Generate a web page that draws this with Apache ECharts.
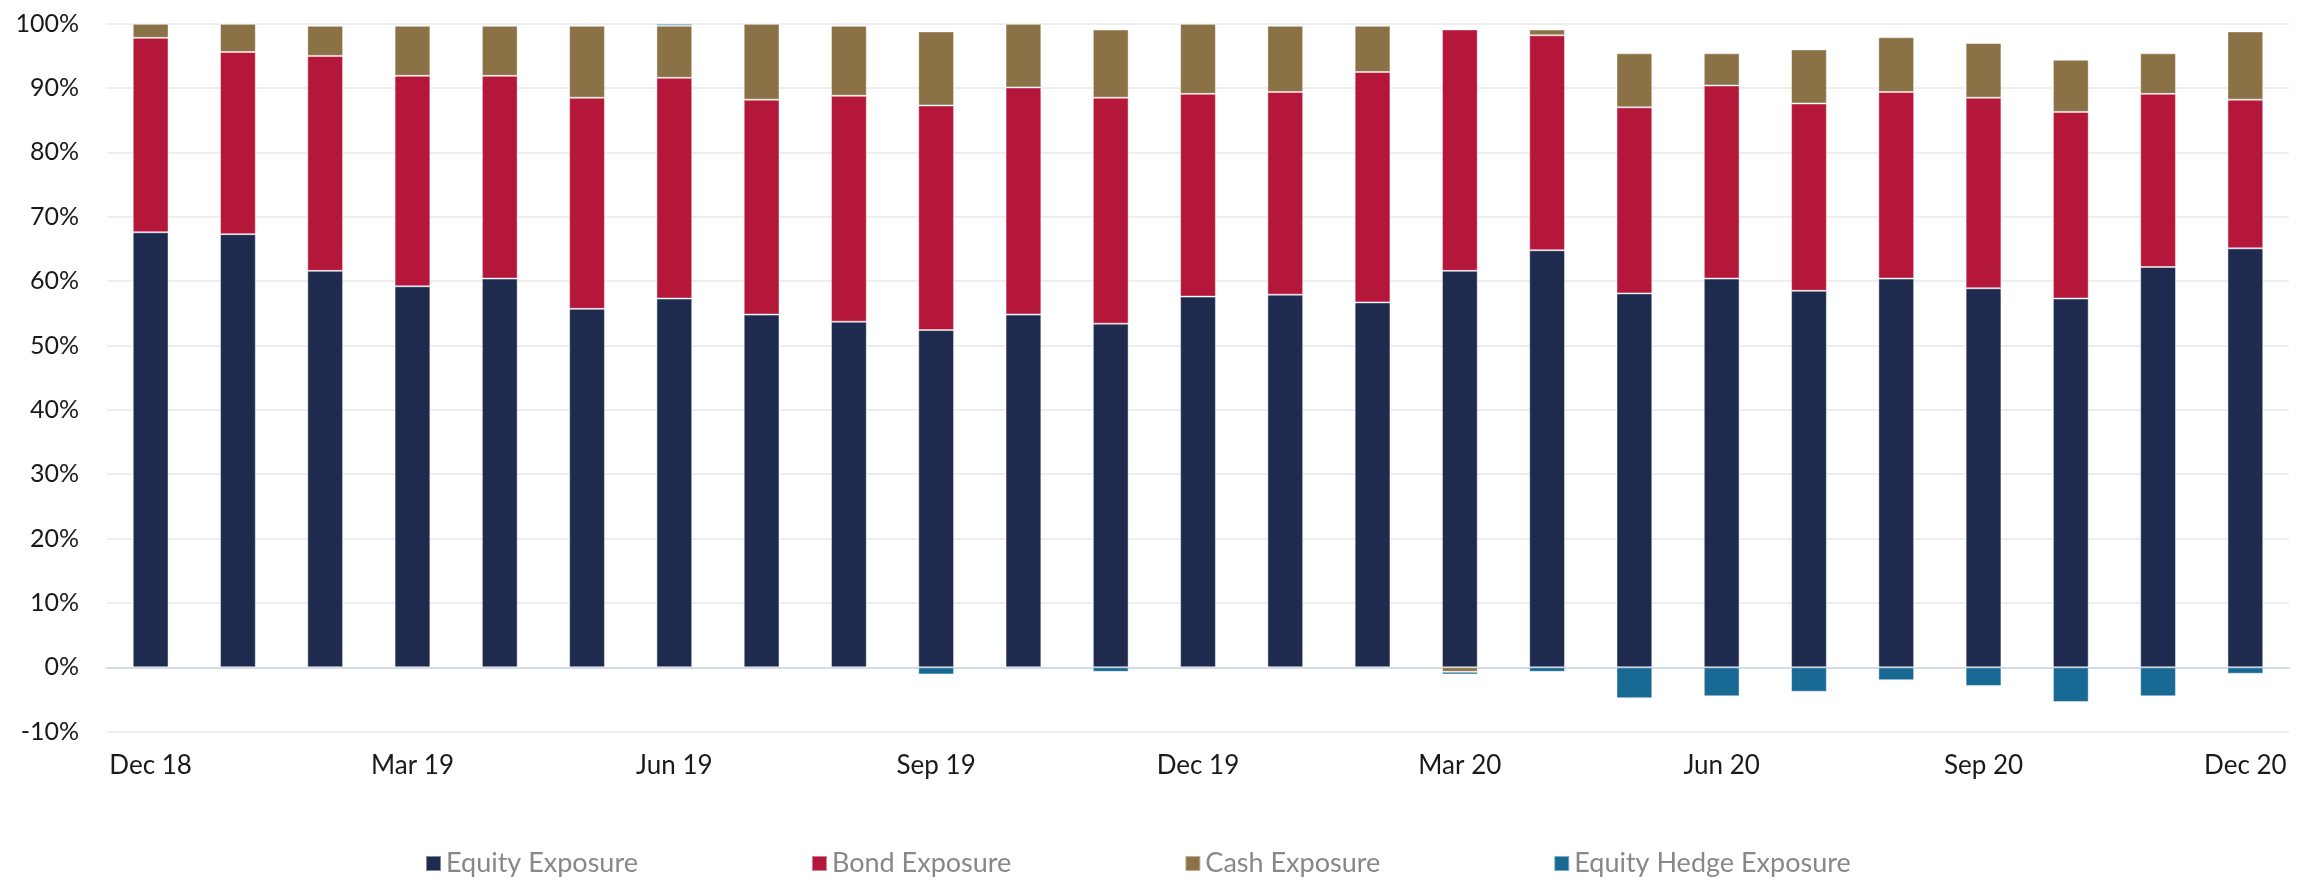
<!DOCTYPE html>
<html>
<head>
<meta charset="utf-8">
<script src="https://cdn.jsdelivr.net/npm/echarts@6/dist/echarts.min.js"></script>
<style>
  html, body { margin: 0; padding: 0; background: #fff; }
  #chart { width: 2315px; height: 880px; }
</style>
</head>
<body>
<div id="chart"></div>
<script>
var months = ['Dec 18', 'Jan 19', 'Feb 19', 'Mar 19', 'Apr 19', 'May 19', 'Jun 19', 'Jul 19', 'Aug 19',
  'Sep 19', 'Oct 19', 'Nov 19', 'Dec 19', 'Jan 20', 'Feb 20', 'Mar 20', 'Apr 20', 'May 20', 'Jun 20',
  'Jul 20', 'Aug 20', 'Sep 20', 'Oct 20', 'Nov 20', 'Dec 20']

var equity = [67.6, 67.3, 61.6, 59.2, 60.4, 55.7, 57.3, 54.8, 53.7, 52.4, 54.8, 53.4, 57.6,
  57.9, 56.7, 61.6, 64.8, 58.1, 60.4, 58.5, 60.4, 58.9, 57.3, 62.2, 65.1]
var bond = [30.2, 28.3, 33.4, 32.7, 31.5, 32.8, 34.3, 33.4, 35.1, 34.9, 35.3, 35.1, 31.5,
  31.5, 35.8, 37.5, 33.4, 28.9, 30.0, 29.1, 29.0, 29.6, 29.0, 26.9, 23.1]
var cash = [2.2, 4.4, 4.7, 7.8, 7.8, 11.2, 8.1, 11.8, 10.9, 11.5, 9.9, 10.6, 10.9,
  10.3, 7.2, -0.7, 0.9, 8.4, 5.0, 8.4, 8.5, 8.5, 8.1, 6.3, 10.6]
var hedge = [0, 0, 0, 0, 0, 0, 0.3, 0, 0, -1.1, 0, -0.7, 0,
  0, 0, -0.4, -0.7, -4.8, -4.5, -3.8, -2.0, -2.9, -5.4, -4.5, -1.0]

var names = ['Equity Exposure', 'Bond Exposure', 'Cash Exposure', 'Equity Hedge Exposure']
var colors = ['#1f2b4e', '#b5173a', '#8b7146', '#186994']

var chart = echarts.init(document.getElementById('chart'), null, { renderer: 'canvas' })

function bar (i, data) {
  return {
    name: names[i],
    type: 'bar',
    stack: 'total',
    barWidth: '41%',
    data: data,
    itemStyle: { color: colors[i], borderColor: 'rgba(255,255,255,0.45)', borderWidth: 1 },
    emphasis: { disabled: true }
  }
}

chart.setOption({
  animation: false,
  textStyle: { fontFamily: 'Lato' },
  grid: { left: 107, right: 26, top: 23.7, height: 708, containLabel: false },
  legend: {
    top: 845,
    left: 420,
    itemWidth: 15,
    itemHeight: 15,
    itemGap: 173,
    icon: 'rect',
    textStyle: { fontSize: 27, color: '#888888' },
    data: names
  },
  xAxis: [{
    type: 'category',
    data: months,
    axisLine: { show: false, onZero: false },
    axisTick: { show: false },
    axisLabel: { interval: 2, fontSize: 26, color: '#1a1a1a', margin: 21 }
  },
  {
    // zero line
    type: 'category',
    data: months,
    position: 'bottom',
    axisLine: { show: true, onZero: true, lineStyle: { color: '#d3dbea', width: 2 } },
    axisTick: { show: false },
    axisLabel: { show: false }
  }],
  yAxis: {
    type: 'value',
    min: -10,
    max: 100,
    interval: 10,
    axisLine: { show: false },
    axisTick: { show: false },
    axisLabel: { formatter: '{value}%', fontSize: 25, color: '#1a1a1a', margin: 28 },
    splitLine: { lineStyle: { color: '#eeeeee', width: 2 } }
  },
  series: [bar(0, equity), bar(1, bond), bar(2, cash), bar(3, hedge)]
})
</script>
</body>
</html>
